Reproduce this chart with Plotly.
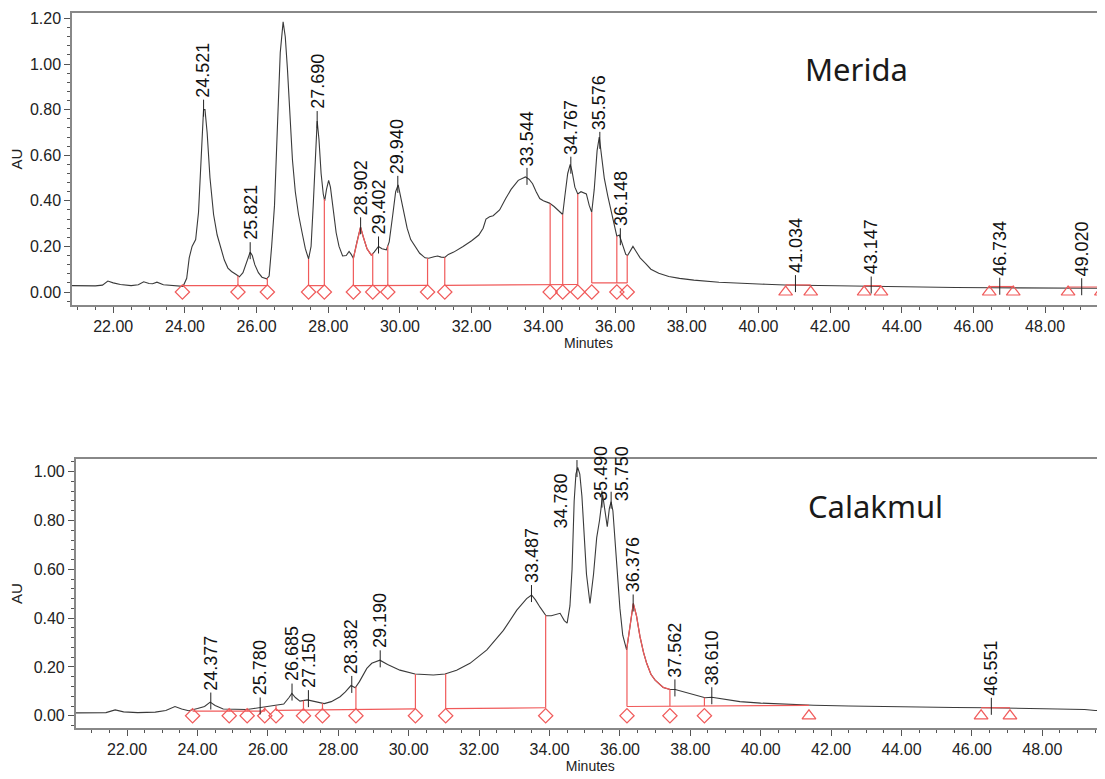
import numpy as np
import plotly.graph_objects as go

# ---------------- Merida (top) ----------------
mer_t = [20.85, 21.5, 21.7, 21.85, 22.0, 22.2, 22.5, 22.7, 22.85, 23.0, 23.1, 23.22, 23.4, 23.6, 23.8, 23.95,
         24.05, 24.12, 24.2, 24.3, 24.38, 24.45, 24.52, 24.56, 24.62, 24.7, 24.8, 24.9, 25.0, 25.1, 25.2, 25.3,
         25.42, 25.52, 25.62, 25.72, 25.82, 25.88, 25.95, 26.05, 26.15, 26.28, 26.35, 26.42, 26.5, 26.58, 26.66,
         26.74, 26.8, 26.86, 26.92, 27.0, 27.08, 27.17, 27.27, 27.36, 27.45, 27.52, 27.58, 27.64, 27.69, 27.74,
         27.8, 27.86, 27.9, 27.95, 28.01, 28.06, 28.15, 28.22, 28.3, 28.4, 28.5, 28.58, 28.64, 28.7, 28.8, 28.9,
         28.98, 29.08, 29.2, 29.28, 29.4, 29.5, 29.62, 29.7, 29.8, 29.88, 29.95, 30.02, 30.1, 30.2, 30.3, 30.42,
         30.55, 30.7, 30.8, 30.95, 31.05, 31.15, 31.25, 31.35, 31.5, 31.76, 32.0, 32.2, 32.32, 32.4, 32.5, 32.6,
         32.78, 32.95, 33.1, 33.3, 33.5, 33.6, 33.7, 33.8, 33.9, 34.0, 34.17, 34.3, 34.45, 34.54, 34.6, 34.68,
         34.75, 34.8, 34.88, 34.96, 35.05, 35.12, 35.2, 35.28, 35.35, 35.42, 35.5, 35.56, 35.62, 35.7, 35.8,
         35.93, 36.05, 36.12, 36.2, 36.3, 36.35, 36.42, 36.5, 36.58, 36.7, 36.85, 37.0, 37.22, 37.5, 37.8, 38.2,
         38.9, 39.5, 40.2, 40.74, 41.5, 42.5, 43.5, 44.5, 45.5, 46.5, 47.5, 48.5, 49.67]
mer_au = [0.028, 0.027, 0.030, 0.048, 0.040, 0.033, 0.028, 0.032, 0.045, 0.037, 0.036, 0.043, 0.032, 0.030, 0.026, 0.025,
          0.06, 0.15, 0.20, 0.23, 0.35, 0.60, 0.80, 0.80, 0.70, 0.50, 0.34, 0.25, 0.19, 0.14, 0.105, 0.09,
          0.078, 0.067, 0.085, 0.13, 0.175, 0.16, 0.12, 0.085, 0.065, 0.058, 0.07, 0.20, 0.38, 0.72, 1.05,
          1.185, 1.12, 0.98, 0.78, 0.58, 0.44, 0.34, 0.26, 0.19, 0.145, 0.20, 0.38, 0.62, 0.75, 0.67,
          0.52, 0.43, 0.40, 0.45, 0.49, 0.46, 0.34, 0.26, 0.20, 0.158, 0.16, 0.178, 0.165, 0.148, 0.22, 0.285,
          0.24, 0.19, 0.162, 0.175, 0.20, 0.19, 0.185, 0.22, 0.34, 0.44, 0.47, 0.42, 0.35, 0.28, 0.23, 0.20,
          0.17, 0.15, 0.148, 0.155, 0.158, 0.153, 0.152, 0.165, 0.175, 0.20, 0.225, 0.25, 0.28, 0.32, 0.33, 0.335,
          0.36, 0.41, 0.45, 0.49, 0.505, 0.495, 0.475, 0.44, 0.41, 0.40, 0.39, 0.375, 0.355, 0.34, 0.42, 0.52,
          0.56, 0.53, 0.46, 0.43, 0.44, 0.435, 0.43, 0.38, 0.35, 0.45, 0.62, 0.68, 0.60, 0.50, 0.42,
          0.33, 0.245, 0.25, 0.21, 0.165, 0.16, 0.18, 0.20, 0.18, 0.15, 0.126, 0.10, 0.082, 0.068, 0.06, 0.052,
          0.043, 0.038, 0.034, 0.031, 0.029, 0.026, 0.023, 0.021, 0.020, 0.019, 0.018, 0.017, 0.016]
mer_peaks = [24.521, 25.821, 27.690, 28.902, 29.402, 29.940, 33.544, 34.767, 35.576, 36.148,
             41.034, 43.147, 46.734, 49.020]
mer_labels = ["24.521", "25.821", "27.690", "28.902", "29.402", "29.940", "33.544", "34.767", "35.576",
              "36.148", "41.034", "43.147", "46.734", "49.020"]
mer_drops = [25.48, 26.30, 27.45, 27.89, 28.70, 29.24, 29.66, 30.77, 31.25, 34.19, 34.54, 34.96,
             35.35, 36.05, 36.34]
mer_diamonds = [23.93, 25.48, 26.30, 27.45, 27.89, 28.70, 29.24, 29.66, 30.77, 31.25, 34.19, 34.54,
                34.96, 35.35, 36.05, 36.34]
mer_triangles = [40.76, 41.46, 42.95, 43.42, 46.44, 47.11, 48.64, 49.57]
mer_base_start = [23.93, 27.45, 28.70, 31.25, 35.35, 40.76, 42.95, 46.44, 48.64]
mer_base_end = [26.30, 27.89, 30.77, 34.96, 36.34, 41.46, 43.42, 47.11, 49.57]
mer_base_y0 = [0.028, 0.028, 0.028, 0.029, 0.040, 0.031, 0.028, 0.024, 0.022]
mer_base_y1 = [0.028, 0.028, 0.029, 0.033, 0.040, 0.031, 0.028, 0.024, 0.022]
mer_red_span = [28.70, 29.24]

# ---------------- Calakmul (bottom) ----------------
cal_t = [20.54, 21.0, 21.4, 21.66, 21.9, 22.3, 22.8, 23.1, 23.36, 23.55, 23.75, 24.0, 24.2, 24.36, 24.5,
         24.73, 25.0, 25.4, 25.6, 25.78, 26.0, 26.26, 26.45, 26.6, 26.68, 26.78, 26.91, 27.12, 27.35, 27.6,
         27.8, 28.05, 28.2, 28.36, 28.48, 28.6, 28.81, 28.95, 29.18, 29.4, 29.75, 30.18, 30.7, 31.03, 31.36,
         31.74, 32.22, 32.69, 33.07, 33.35, 33.49, 33.6, 33.73, 33.9, 34.05, 34.2, 34.3, 34.42, 34.5, 34.58,
         34.64, 34.7, 34.75, 34.8, 34.86, 34.92, 34.98, 35.05, 35.15, 35.25, 35.34, 35.42, 35.51, 35.58,
         35.64, 35.7, 35.75, 35.8, 35.9, 36.0, 36.08, 36.19, 36.28, 36.38, 36.47, 36.57, 36.67, 36.76, 36.88,
         37.0, 37.23, 37.42, 37.57, 37.8, 37.99, 38.2, 38.42, 38.61, 39.0, 39.41, 40.0, 40.74, 41.5, 42.5,
         43.58, 44.5, 45.5, 46.42, 47.5, 48.5, 49.2, 49.5, 49.78]
cal_au = [0.012, 0.012, 0.013, 0.024, 0.016, 0.013, 0.015, 0.022, 0.038, 0.028, 0.021, 0.030, 0.038, 0.056, 0.042,
          0.028, 0.026, 0.026, 0.030, 0.034, 0.036, 0.042, 0.048, 0.075, 0.092, 0.075, 0.060, 0.065, 0.058, 0.050,
          0.058, 0.078, 0.098, 0.124, 0.115, 0.140, 0.194, 0.215, 0.228, 0.210, 0.187, 0.171, 0.167, 0.171, 0.187,
          0.215, 0.27, 0.35, 0.433, 0.48, 0.495, 0.475, 0.445, 0.41, 0.41, 0.415, 0.42, 0.39, 0.38, 0.45,
          0.60, 0.88, 0.99, 1.018, 0.99, 0.90, 0.75, 0.58, 0.46, 0.58, 0.73, 0.80, 0.905, 0.84,
          0.775, 0.85, 0.877, 0.84, 0.63, 0.44, 0.33, 0.27, 0.36, 0.46, 0.41, 0.324, 0.26, 0.215, 0.17,
          0.146, 0.116, 0.108, 0.108, 0.099, 0.092, 0.082, 0.074, 0.076, 0.067, 0.058, 0.052, 0.047, 0.043, 0.040,
          0.037, 0.035, 0.034, 0.033, 0.031, 0.028, 0.026, 0.022, 0.021]
cal_peaks = [24.377, 25.780, 26.685, 27.150, 28.382, 29.190, 33.487, 34.780, 35.490, 35.750, 36.376,
             37.562, 38.610, 46.551]
cal_labels = ["24.377", "25.780", "26.685", "27.150", "28.382", "29.190", "33.487", "34.780", "35.490",
              "35.750", "36.376", "37.562", "38.610", "46.551"]
cal_drops = [24.90, 25.41, 25.91, 26.23, 27.01, 27.55, 28.50, 30.19, 31.05, 33.89, 36.20, 37.42, 38.40]
cal_diamonds = [23.86, 24.90, 25.41, 25.91, 26.23, 27.01, 27.55, 28.50, 30.19, 31.05, 33.89, 36.20,
                37.42, 38.40]
cal_triangles = [41.37, 46.26, 47.08]
cal_base_start = [23.86, 26.23, 31.05, 36.20, 46.26]
cal_base_end = [25.91, 30.19, 33.89, 41.37, 47.08]
cal_base_y0 = [0.019, 0.022, 0.029, 0.038, 0.033]
cal_base_y1 = [0.019, 0.028, 0.033, 0.043, 0.033]
cal_red_span = [36.20, 37.42]
# label offsets in pixels (dx, dy) for crowded peaks
cal_label_dx = {"34.780": -16, "35.490": -1, "35.750": 11}
cal_label_dy = {"34.780": -70, "35.490": -12, "35.750": -12}

BLACK = "#3a3a3a"
RED = "#f05a5a"
FONT = "Liberation Sans, Arial, sans-serif"

fig = go.Figure()


def base_at(t, starts, ends, y0s, y1s):
    for s, e, a, b in zip(starts, ends, y0s, y1s):
        if s - 1e-6 <= t <= e + 1e-6:
            return a + (b - a) * (t - s) / (e - s)
    return None


def add_panel(xr, yr, t, au, peaks, labels, drops, diamonds, triangles,
              bs, be, by0, by1, red_span, px_per_au, dxs, dys):
    t = np.array(t)
    au = np.array(au)
    fig.add_trace(go.Scatter(x=t, y=au, mode="lines", line=dict(color=BLACK, width=1.1),
                             xaxis=xr, yaxis=yr, hoverinfo="skip"))
    m = (t > red_span[0]) & (t < red_span[1])
    rx = [red_span[0]] + list(t[m]) + [red_span[1]]
    ry = [float(np.interp(red_span[0], t, au))] + list(au[m]) + [float(np.interp(red_span[1], t, au))]
    fig.add_trace(go.Scatter(x=rx, y=ry, mode="lines", line=dict(color=RED, width=1.3),
                             xaxis=xr, yaxis=yr, hoverinfo="skip"))
    lx, ly = [], []
    for s, e, a, b in zip(bs, be, by0, by1):
        lx += [s, e, None]
        ly += [a, b, None]
    for d in drops:
        b = base_at(d, bs, be, by0, by1)
        if b is None:
            continue
        lx += [d, d, None]
        ly += [b, float(np.interp(d, t, au)), None]
    fig.add_trace(go.Scatter(x=lx, y=ly, mode="lines", line=dict(color=RED, width=1.2),
                             xaxis=xr, yaxis=yr, hoverinfo="skip"))
    fig.add_trace(go.Scatter(x=diamonds, y=[0.0] * len(diamonds), mode="markers",
                             marker=dict(symbol="diamond-open", size=11, color=RED, line=dict(width=1.2)),
                             xaxis=xr, yaxis=yr, hoverinfo="skip"))
    fig.add_trace(go.Scatter(x=triangles, y=[0.0] * len(triangles), mode="markers",
                             marker=dict(symbol="triangle-up-open", size=12, color=RED, line=dict(width=1.2)),
                             xaxis=xr, yaxis=yr, hoverinfo="skip"))
    tx, ty = [], []
    for p in peaks:
        h = float(np.interp(p, t, au))
        tx += [p, p, None]
        ty += [h - 7 / px_per_au, h + 10 / px_per_au, None]
    fig.add_trace(go.Scatter(x=tx, y=ty, mode="lines", line=dict(color="#222222", width=1),
                             xaxis=xr, yaxis=yr, hoverinfo="skip"))
    for p, lab in zip(peaks, labels):
        h = float(np.interp(p, t, au))
        fig.add_annotation(x=p, y=h, xref=xr, yref=yr, text=lab, textangle=-90, showarrow=False,
                           xanchor="center", yanchor="bottom",
                           xshift=dxs.get(lab, 0), yshift=10 + dys.get(lab, 0),
                           font=dict(family=FONT, size=18, color="#111111"))


add_panel("x", "y", mer_t, mer_au, mer_peaks, mer_labels, mer_drops, mer_diamonds, mer_triangles,
          mer_base_start, mer_base_end, mer_base_y0, mer_base_y1, mer_red_span, 228.0, {}, {})
add_panel("x2", "y2", cal_t, cal_au, cal_peaks, cal_labels, cal_drops, cal_diamonds, cal_triangles,
          cal_base_start, cal_base_end, cal_base_y0, cal_base_y1, cal_red_span, 244.0,
          cal_label_dx, cal_label_dy)

fig.add_annotation(x=42.75, y=0.978, xref="x", yref="y", text="Merida", showarrow=False,
                   font=dict(family="Noto Sans", size=31, color="#1a1a1a"))
fig.add_annotation(x=43.27, y=0.859, xref="x2", yref="y2", text="Calakmul", showarrow=False,
                   font=dict(family="Noto Sans", size=31, color="#1a1a1a"))

xax = dict(showline=True, linecolor="#888888", linewidth=1.5, mirror=True, ticks="outside",
           ticklen=6, tickcolor="#555555", dtick=2, tick0=0, tickformat=".2f", showgrid=False,
           zeroline=False, automargin=False, tickfont=dict(family=FONT, size=16, color="#222222"),
           minor=dict(dtick=0.5, ticklen=3, ticks="outside", tickcolor="#555555", showgrid=False),
           title=dict(text="Minutes", font=dict(family=FONT, size=14, color="#222222"), standoff=2))
yax = dict(showline=True, linecolor="#888888", linewidth=1.5, mirror=False, ticks="outside",
           ticklen=6, tickcolor="#555555", dtick=0.2, tick0=0, tickformat=".2f", showgrid=False,
           zeroline=False, automargin=False, tickfont=dict(family=FONT, size=16, color="#222222"),
           minor=dict(dtick=0.04, ticklen=3, ticks="outside", tickcolor="#555555", showgrid=False),
           title=dict(text="AU", font=dict(family=FONT, size=15, color="#222222"), standoff=8))

# the page body adds an 8 px offset, so the figure is 8 px smaller and margins are reduced by 8
fig.update_layout(
    width=1097, height=771,
    margin=dict(l=64, r=0, t=5, b=51, autoexpand=False),
    paper_bgcolor="white", plot_bgcolor="white",
    showlegend=False,
    xaxis=dict(xax, domain=[0, 1], range=[20.85, 49.67], anchor="y"),
    yaxis=dict(yax, domain=[0.5916, 1], range=[-0.057, 1.224], anchor="x"),
    xaxis2=dict(xax, domain=[0.0036, 1], range=[20.54, 49.78], anchor="y2"),
    yaxis2=dict(yax, domain=[0, 0.3762], range=[-0.05, 1.052], anchor="x2"),
)

fig.write_html("out.html")
